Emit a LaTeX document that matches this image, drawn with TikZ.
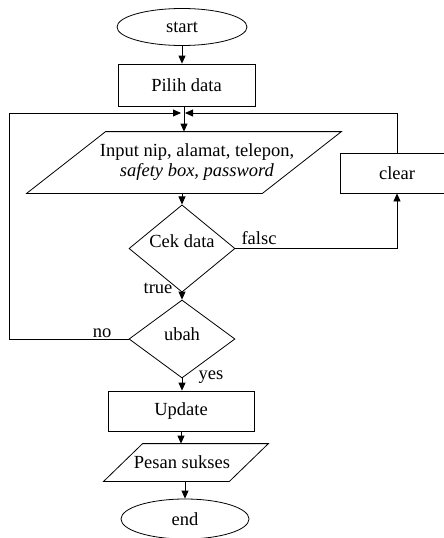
\documentclass[tikz,border=0pt]{standalone}
\usepackage{fontspec}
\setmainfont{Liberation Serif}
\usetikzlibrary{shapes.geometric,arrows.meta}

% parallelogram frame around an input/output node: #1 node, #2 half the slant
\newcommand\slantframe[2]{%
  \draw ([xshift=#2]#1.north west) -- ([xshift=#2]#1.north east)
     -- ([xshift=-#2]#1.south east) -- ([xshift=-#2]#1.south west) -- cycle;}

\begin{document}
\begin{tikzpicture}[x=1pt,y=-1pt,
  font=\fontsize{18.5}{20}\selectfont,
  line width=0.8pt,
  flow/.style={-{Triangle[length=8pt,width=7pt]}},
  terminal/.style={draw, ellipse, inner sep=0pt},
  process/.style={draw, rectangle, inner sep=0pt},
  decision/.style={draw, diamond, inner sep=0pt},
  iobox/.style={inner sep=0pt},
  tag/.style={inner sep=0pt}]

\clip (0,0) rectangle (444,538);

% nodes
\node[terminal, minimum width=130pt, minimum height=37pt] (start) at (182,27) {start};
\node[process, minimum width=137pt, minimum height=42pt] (pilih) at (186.5,85) {Pilih data};
\node[iobox, minimum width=235pt, minimum height=61pt,
  label={[xshift=13pt, align=center]center:{Input nip, alamat, telepon,\\ \textit{safety box, password}}}]
  (input) at (184,162.5) {};
\slantframe{input}{39.5pt}
\node[process, minimum width=114pt, minimum height=40pt] (clear) at (397,173) {clear};
\node[decision, minimum width=106pt, minimum height=79pt, text height=10pt, text depth=12pt]
  (cek) at (182,248.5) {Cek data};
\node[decision, minimum width=106pt, minimum height=78pt, text height=11pt, text depth=9pt]
  (ubah) at (182,339) {ubah};
\node[process, minimum width=146pt, minimum height=40pt] (update) at (181,411) {Update};
\node[iobox, minimum width=125pt, minimum height=37pt,
  label={[xshift=-4pt]center:Pesan sukses}] (pesan) at (186,462.5) {};
\slantframe{pesan}{19.5pt}
\node[terminal, minimum width=128pt, minimum height=40pt] (end) at (185,519) {end};

% branch labels
\node[tag] (lfalse) at (259,238) {falsc};
\node[tag] (ltrue) at (158,288) {true};
\node[tag] (lno) at (102,333) {no};
\node[tag] (lyes) at (211,377) {yes};

% loop-back points
\coordinate (jl) at (181,113);
\coordinate (jr) at (185,113);
\coordinate (rail) at (9,339);

% connectors
\draw[flow] (start.south) -- (start.south |- pilih.north);
\draw[flow] (pilih.south -| input.north) -- (input.north);
\draw[flow] (ubah.west) -- (rail) |- (jl);
\draw[flow] (clear.north) |- (jr);
\draw[flow] (cek.north |- input.south) -- (cek.north);
\draw[flow] (cek.east) -| (clear.south);
\draw[flow] (cek.south) -- (ubah.north);
\draw[flow] (ubah.south) -- (ubah.south |- update.north);
\draw[flow] (update.south) -- (update.south |- pesan.north);
\draw[flow] (pesan.south -| end.north) -- (end.north);
\end{tikzpicture}
\end{document}
